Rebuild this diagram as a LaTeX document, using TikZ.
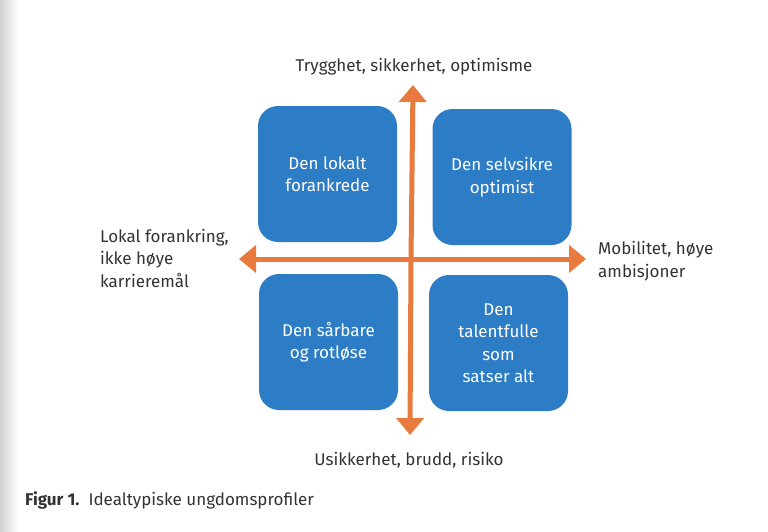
\documentclass[tikz,border=0pt]{standalone}
\usepackage{fontspec}
\setmainfont{Fira Sans}
\usetikzlibrary{arrows.meta,positioning}
\definecolor{boxblue}{HTML}{2D7CC6}
\definecolor{axisorange}{HTML}{E97A3E}
\definecolor{txt}{HTML}{333333}
\begin{document}
\begin{tikzpicture}[x=1pt,y=-1pt,
  quad/.style={fill=boxblue,draw=none,rounded corners=20pt,minimum width=139pt,minimum height=136pt,
    text=white,align=center,font=\fontsize{17}{22.5}\selectfont,inner sep=0pt},
  axis/.style={draw=axisorange,line width=5pt,-{Triangle[width=27pt,length=17pt]}},
  lbl/.style={text=txt,font=\fontsize{17}{22.5}\selectfont,inner sep=0pt}]
\useasboundingbox (0,0) rectangle (768,531);
\fill[white] (0,0) rectangle (768,531);
\shade[left color=black!18,right color=white] (0,0) rectangle (18,531);
% boxes
\node[quad] (tl) at (327.5,174) {Den lokalt\\forankrede};
\node[quad] (tr) at (502,177) {Den selvsikre\\optimist};
\node[quad] (bl) at (328.5,342) {Den sårbare\\og rotløse};
\node[quad] (br) at (498.5,343) {Den\\talentfulle\\som\\satser alt};
% axes
\coordinate (c) at (411,259);
\coordinate (up) at (413,85);
\coordinate (down) at (410,435);
\coordinate (left) at (239,259);
\coordinate (right) at (586,259);
\draw[axis] (c) -- (up);
\draw[axis] (c) -- (down);
\draw[axis] (c) -- (left);
\draw[axis] (c) -- (right);
% labels
\node[lbl] (ttop) at (414,67) {Trygghet, sikkerhet, optimisme};
\node[lbl] (tbot) at (409,460) {Usikkerhet, brudd, risiko};
\node[lbl,align=left,anchor=west] (tleft) at (100,258) {Lokal forankring,\\ikke høye\\karrieremål};
\node[lbl,align=left,anchor=west] (tright) at (598,261) {Mobilitet, høye\\ambisjoner};
\node[lbl,anchor=west] (cap) at (25,500) {\textbf{Figur 1.}\hspace{9pt}Idealtypiske ungdomsprofiler};
\end{tikzpicture}
\end{document}
